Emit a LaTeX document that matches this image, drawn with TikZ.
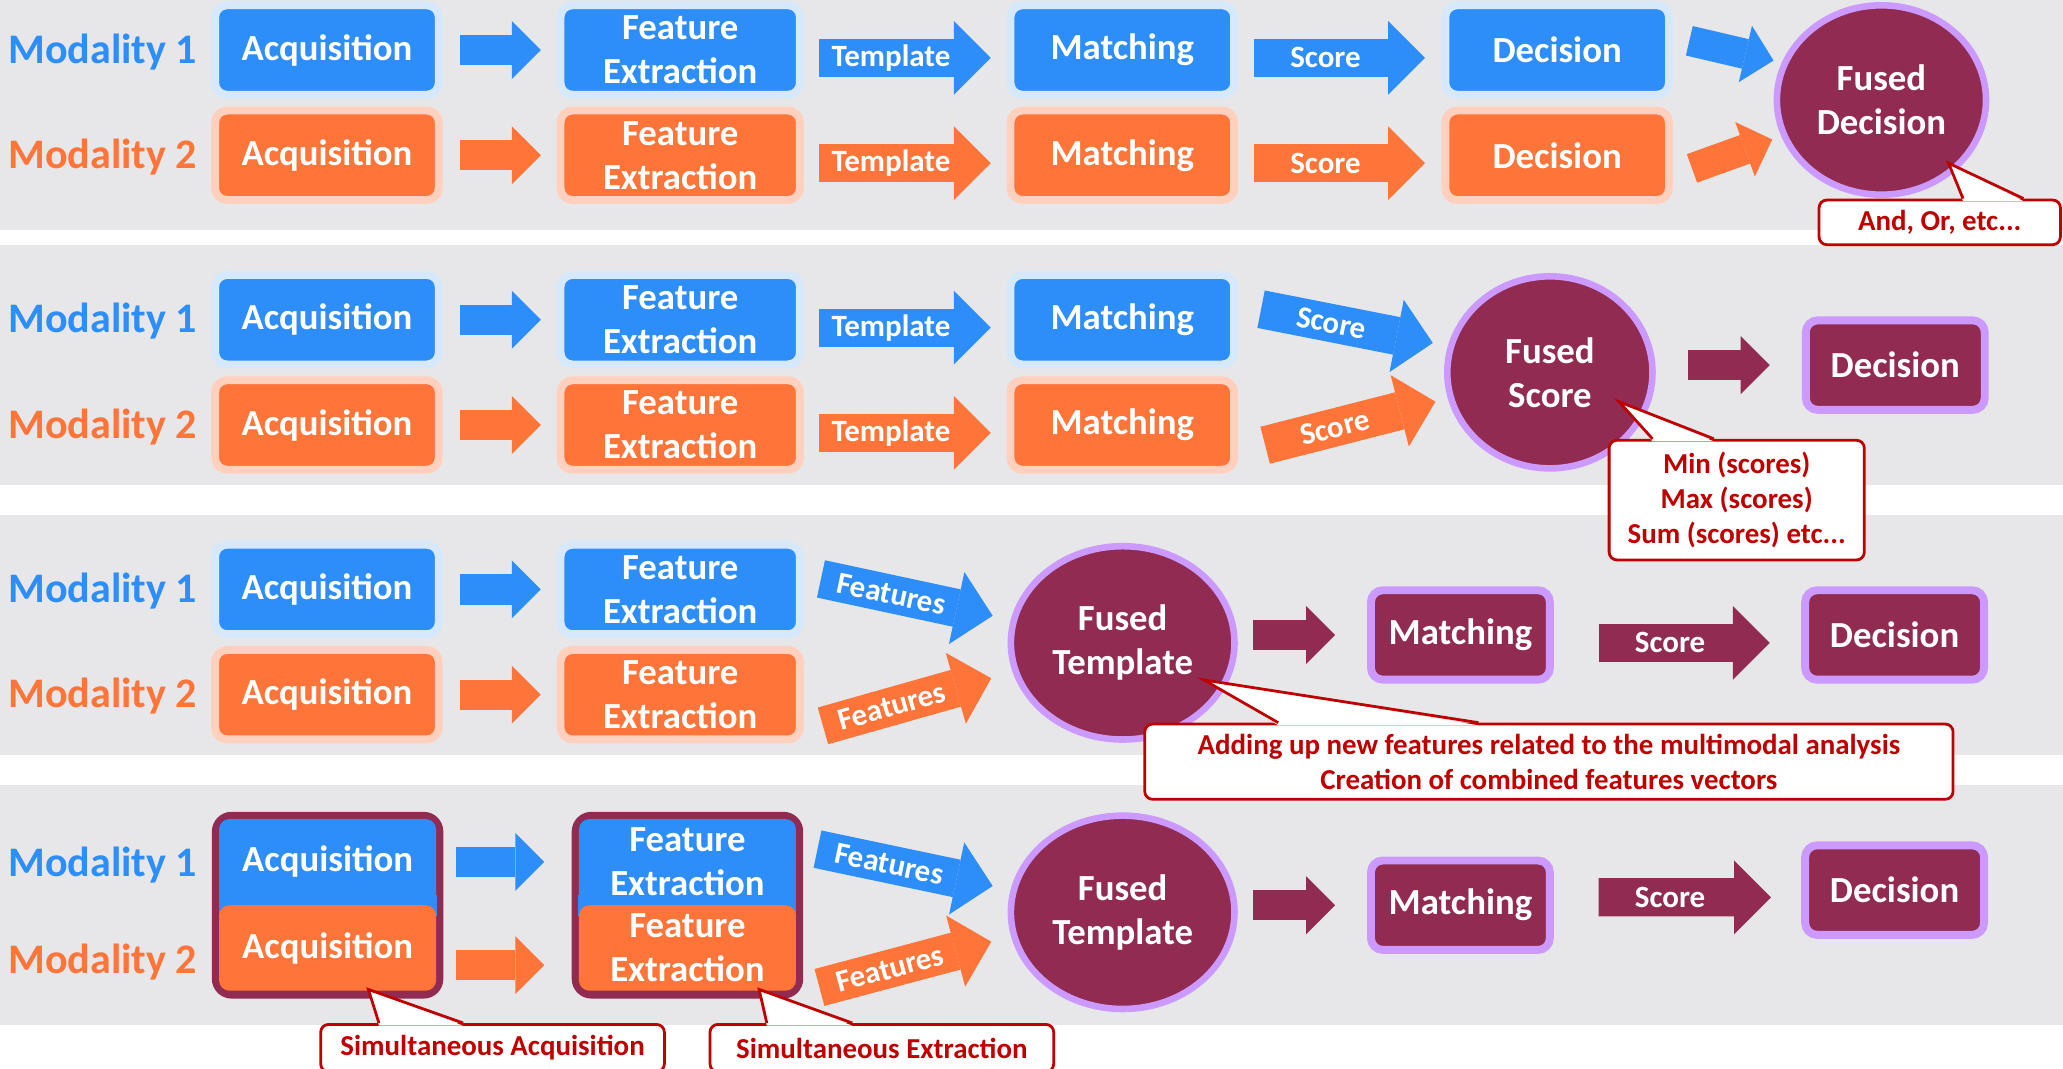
\documentclass[tikz,border=0pt]{standalone}
\usepackage{fontspec}
\setmainfont{Carlito}
\usetikzlibrary{calc, shapes.geometric, positioning, arrows.meta}
\definecolor{modblue}{RGB}{45,142,249}
\definecolor{modbluelt}{RGB}{213,232,252}
\definecolor{modorange}{RGB}{255,116,56}
\definecolor{modorangelt}{RGB}{255,208,190}
\definecolor{fusedred}{RGB}{146,43,82}
\definecolor{fusedlilac}{RGB}{204,153,255}
\definecolor{notered}{RGB}{192,0,0}
\definecolor{panelgray}{RGB}{231,231,233}
\newcommand\modfont{\fontsize{18.2pt}{22pt}\selectfont\bfseries}
\newcommand\boxfont{\fontsize{15.9pt}{19pt}\selectfont\bfseries}
\newcommand\tagfont{\fontsize{13.4pt}{16pt}\selectfont\bfseries}
\newcommand\notefont{\fontsize{12.5pt}{15.1pt}\selectfont\bfseries}
\newcommand\notetip[4]{\fill[white] (#1) -- ($(#2.north)+(#3,2)$) -- ($(#2.north)+(#4,2)$) -- cycle;
	\draw[notered, line width=1.2pt] ($(#2.north)+(#3,0)$) -- (#1) -- ($(#2.north)+(#4,0)$);}
\tikzset{
	stagebox/.style={rounded corners=0.18cm, line width=0.12cm, inner sep=0pt, minimum width=3.4cm, minimum height=1.36cm, text=white, font=\boxfont, align=center},
	bluestage/.style={stagebox, fill=modblue, draw=modbluelt},
	orangestage/.style={stagebox, fill=modorange, draw=modorangelt},
	fusedstage/.style={stagebox, fill=fusedred, draw=fusedlilac, minimum width=2.72cm},
	widestage/.style={minimum width=3.64cm},
	fusedblob/.style={ellipse, fill=fusedred, draw=fusedlilac, line width=0.1cm, inner sep=0pt, text=white, font=\boxfont, align=center},
	groupbox/.style={rounded corners=0.3cm, fill=fusedred, inner sep=0pt, minimum width=3.52cm, minimum height=2.84cm},
	halfstage/.style={rounded corners=0.16cm, inner sep=0pt, minimum width=3.3cm, minimum height=1.3cm, text=white, font=\boxfont, align=center},
	modlabel/.style={anchor=base west, inner sep=0pt, font=\modfont},
	thinarrow/.style={line width=0.46cm, -{Triangle[length=0.44cm, width=0.88cm, line width=0pt]}},
	fatarrow/.style={line width=0.58cm, -{Triangle[length=0.56cm, width=1.12cm, line width=0pt]}},
	arrowtag/.style={sloped, pos=0.43, inner sep=0pt, text=white, font=\tagfont},
	notebox/.style={draw=notered, fill=white, line width=1.2pt, rounded corners=0.12cm, inner sep=0pt, text=notered, font=\notefont, align=center}
}
\begin{document}
\begin{tikzpicture}[x=0.02cm, y=-0.02cm]
\useasboundingbox (0,0) rectangle (1568,812);
\clip (0,0) rectangle (1568,812);
\fill[panelgray] (0,-10) rectangle (1568,174.8);
\fill[panelgray] (0,186.2) rectangle (1568,368.6);
\fill[panelgray] (0,391.4) rectangle (1568,573.8);
\fill[panelgray] (0,596.6) rectangle (1568,779);

% decision level
\node[modlabel, text=modblue] (mod1a) at (6,48) {Modality 1};
\node[modlabel, text=modorange] (mod1b) at (6,128) {Modality 2};
\node[bluestage] (acq1a) at (248.5,38) {Acquisition};
\node[orangestage] (acq1b) at (248.5,118) {Acquisition};
\node[bluestage, widestage] (fe1a) at (517,38) {Feature\\Extraction};
\node[orangestage, widestage] (fe1b) at (517,118) {Feature\\Extraction};
\node[bluestage] (mt1a) at (853,38) {Matching};
\node[orangestage] (mt1b) at (853,118) {Matching};
\node[bluestage] (dc1a) at (1183.5,38) {Decision};
\node[orangestage] (dc1b) at (1183.5,118) {Decision};
\node[fusedblob, minimum width=3.18cm, minimum height=2.88cm] (fdec) at (1430,76) {Fused\\Decision};
\draw[thinarrow, modblue, shorten <=0.26cm, shorten >=0.24cm] (acq1a) -- (fe1a);
\draw[thinarrow, modorange, shorten <=0.26cm, shorten >=0.24cm] (acq1b) -- (fe1b);
\draw[fatarrow, modblue, shorten <=0.23cm, shorten >=0.24cm] ($(fe1a.east)+(0,6)$) -- node[arrowtag] {Template} ($(mt1a.west)+(0,6)$);
\draw[fatarrow, modorange, shorten <=0.23cm, shorten >=0.24cm] ($(fe1b.east)+(0,6)$) -- node[arrowtag] {Template} ($(mt1b.west)+(0,6)$);
\draw[fatarrow, modblue, shorten <=0.24cm, shorten >=0.25cm] ($(mt1a.east)+(0,6)$) -- node[arrowtag] {Score} ($(dc1a.west)+(0,6)$);
\draw[fatarrow, modorange, shorten <=0.24cm, shorten >=0.25cm] ($(mt1b.east)+(0,6)$) -- node[arrowtag] {Score} ($(dc1b.west)+(0,6)$);
\draw[thinarrow, modblue] ($(dc1a.east)+(12.5,-7)$) -- ($(fdec.center)+(-82,-30)$);
\draw[thinarrow, modorange] ($(dc1b.east)+(14.5,10)$) -- ($(fdec.center)+(-83,30)$);
\node[notebox, minimum width=3.67cm, minimum height=0.68cm] (note1) at (1474.3,169) {And, Or, etc...};
\coordinate (tip1) at ($(fdec.center)+(51,48)$);
\notetip{tip1}{note1}{17.7}{63.7}

% score level
\node[modlabel, text=modblue] (mod2a) at (6,253) {Modality 1};
\node[modlabel, text=modorange] (mod2b) at (6,333) {Modality 2};
\node[bluestage] (acq2a) at (248.5,243) {Acquisition};
\node[orangestage] (acq2b) at (248.5,323) {Acquisition};
\node[bluestage, widestage] (fe2a) at (517,243) {Feature\\Extraction};
\node[orangestage, widestage] (fe2b) at (517,323) {Feature\\Extraction};
\node[bluestage] (mt2a) at (853,243) {Matching};
\node[orangestage] (mt2b) at (853,323) {Matching};
\node[fusedblob, minimum width=3.12cm, minimum height=2.92cm] (fscore) at (1178,283) {Fused\\Score};
\node[fusedstage] (dc2) at (1440.5,277.5) {Decision};
\draw[thinarrow, modblue, shorten <=0.26cm, shorten >=0.24cm] (acq2a) -- (fe2a);
\draw[thinarrow, modorange, shorten <=0.26cm, shorten >=0.24cm] (acq2b) -- (fe2b);
\draw[fatarrow, modblue, shorten <=0.23cm, shorten >=0.24cm] ($(fe2a.east)+(0,6)$) -- node[arrowtag] {Template} ($(mt2a.west)+(0,6)$);
\draw[fatarrow, modorange, shorten <=0.23cm, shorten >=0.24cm] ($(fe2b.east)+(0,6)$) -- node[arrowtag] {Template} ($(mt2b.west)+(0,6)$);
\draw[fatarrow, modblue] ($(mt2a.east)+(17.5,-8)$) -- node[arrowtag, pos=0.41] {Score} ($(fscore.center)+(-89,-22.3)$);
\draw[fatarrow, modorange] ($(mt2b.east)+(20.6,15.4)$) -- node[arrowtag, pos=0.41] {Score} ($(fscore.center)+(-87,22.3)$);
\draw[thinarrow, fusedred, shorten <=0.49cm, shorten >=0.49cm] (fscore.east |- dc2.west) -- (dc2.west);
\node[notebox, minimum width=3.88cm, minimum height=1.82cm] (note2) at (1320,380.1) {Min (scores)\\Max (scores)\\Sum (scores) etc...};
\coordinate (tip2) at ($(fscore.center)+(52.5,22.3)$);
\notetip{tip2}{note2}{-64}{-17.3}

% feature level
\node[modlabel, text=modblue] (mod3a) at (6,458) {Modality 1};
\node[modlabel, text=modorange] (mod3b) at (6,538) {Modality 2};
\node[bluestage] (acq3a) at (248.5,448) {Acquisition};
\node[orangestage] (acq3b) at (248.5,528) {Acquisition};
\node[bluestage, widestage] (fe3a) at (517,448) {Feature\\Extraction};
\node[orangestage, widestage] (fe3b) at (517,528) {Feature\\Extraction};
\node[fusedblob, minimum width=3.4cm, minimum height=2.94cm] (ftpl3) at (853.3,488.6) {Fused\\Template};
\node[fusedstage] (mt3) at (1110,482.6) {Matching};
\node[fusedstage] (dc3) at (1440,482.6) {Decision};
\draw[thinarrow, modblue, shorten <=0.26cm, shorten >=0.24cm] (acq3a) -- (fe3a);
\draw[thinarrow, modorange, shorten <=0.26cm, shorten >=0.24cm] (acq3b) -- (fe3b);
\draw[fatarrow, modblue] ($(fe3a.east)+(13,-8)$) -- node[arrowtag, pos=0.41] {Features} ($(ftpl3.center)+(-98.8,-20.6)$);
\draw[fatarrow, modorange] ($(fe3b.east)+(14.5,23.7)$) -- node[arrowtag, pos=0.41] {Features} ($(ftpl3.center)+(-99.9,26.9)$);
\draw[thinarrow, fusedred, shorten <=0.234cm, shorten >=0.486cm] (ftpl3.east |- mt3.west) -- (mt3.west);
\draw[fatarrow, fusedred, shorten <=0.68cm, shorten >=0.48cm] ($(mt3.east)+(0,6)$) -- node[arrowtag, pos=0.47] {Score} ($(dc3.west)+(0,6)$);
\node[notebox, minimum width=12.29cm, minimum height=1.144cm] (note3) at (1177.25,578.9) {Adding up new features related to the multimodal analysis\\Creation of combined features vectors};
\coordinate (tip3) at ($(ftpl3.center)+(61.7,28.2)$);
\notetip{tip3}{note3}{-205.75}{-53.55}

% sensor level
\node[modlabel, text=modblue] (mod4a) at (6,666) {Modality 1};
\node[modlabel, text=modorange] (mod4b) at (6,740) {Modality 2};
\node[groupbox] (acq4) at (249,688) {};
\fill[modblue] ($(acq4.west)+(5.5,-8)$) rectangle ($(acq4.east)+(-5.5,8)$);
\node[halfstage, fill=modblue] (acq4a) at (249,655) {Acquisition};
\node[halfstage, fill=modorange] (acq4b) at (249,720.5) {Acquisition};
\node[groupbox] (fe4) at (522.5,688) {};
\fill[modblue] ($(fe4.west)+(5.5,-8)$) rectangle ($(fe4.east)+(-5.5,8)$);
\node[halfstage, fill=modblue] (fe4a) at (522.5,655) {Feature\\Extraction};
\node[halfstage, fill=modorange] (fe4b) at (522.5,720.5) {Feature\\Extraction};
\node[fusedblob, minimum width=3.4cm, minimum height=2.94cm] (ftpl4) at (853.3,693.4) {Fused\\Template};
\node[fusedstage] (mt4) at (1110,688) {Matching};
\node[fusedstage] (dc4) at (1440,676.5) {Decision};
\draw[thinarrow, modblue, shorten <=0.3cm, shorten >=0.52cm] (acq4a) -- (fe4a);
\draw[thinarrow, modorange, shorten <=0.3cm, shorten >=0.52cm] ($(acq4b.east)+(0,13)$) -- ($(fe4b.west)+(0,13)$);
\draw[fatarrow, modblue] ($(fe4a.east)+(16,-9.6)$) -- node[arrowtag, pos=0.41] {Features} ($(ftpl4.center)+(-98.8,-20)$);
\draw[fatarrow, modorange] ($(fe4b.east)+(17.5,30)$) -- node[arrowtag, pos=0.41] {Features} ($(ftpl4.center)+(-99.9,22.3)$);
\draw[thinarrow, fusedred, shorten <=0.234cm, shorten >=0.486cm] (ftpl4.east |- mt4.west) -- (mt4.west);
\draw[fatarrow, fusedred, shorten <=0.68cm, shorten >=0.46cm] ($(mt4.east)+(0,-6)$) -- node[arrowtag, pos=0.47] {Score} ($(dc4.west)+(0,5.5)$);
\node[notebox, minimum width=5.226cm, minimum height=0.72cm] (note4) at (374.35,796.6) {Simultaneous Acquisition};
\coordinate (tip4) at ($(acq4b.south)+(31,-1.3)$);
\notetip{tip4}{note4}{-86.35}{-22.35}
\node[notebox, minimum width=5.226cm, minimum height=0.72cm] (note5) at (670.25,796.6) {Simultaneous Extraction};
\coordinate (tip5) at ($(fe4b.south)+(54.5,-1.3)$);
\notetip{tip5}{note5}{-87.45}{-22.45}
\end{tikzpicture}
\end{document}
